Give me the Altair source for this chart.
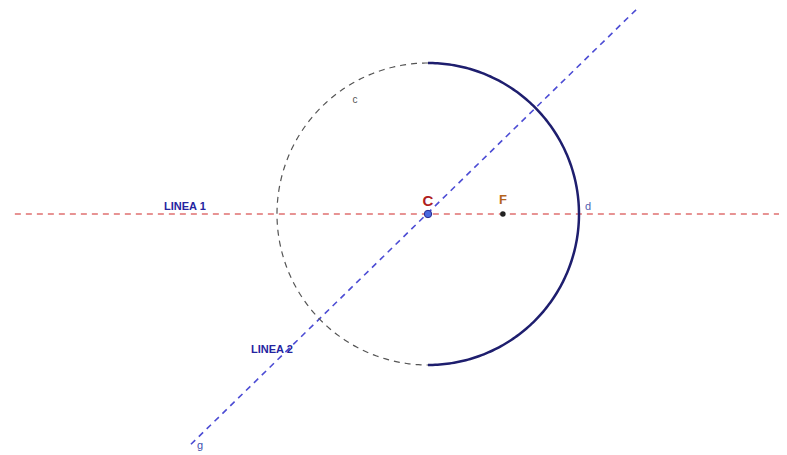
import altair as alt
import numpy as np
import pandas as pd

# Geometry (data units)
center_x, center_y = 0.0, 0.0
radius = 5.0
F_point = (2.48, 0.0)

# Line 1 (horizontal, red dashed) endpoints
line1_x = [-13.68, 12.5]
line1_y = [0.0, 0.0]
# Line 2 (blue dashed) endpoints
line2_x = [-8.11, 6.95]
line2_y = [-7.88, 6.82]

# Labels
label_text = ["LINEA 1", "LINEA 2", "C", "F", "d", "c", "g"]
label_x = [-8.05, -5.17, 0.0, 2.48, 5.30, -2.42, -7.55]
label_y = [0.23, -4.50, 0.42, 0.48, 0.23, 3.77, -7.68]
label_color = ["#2424a0", "#2424a0", "#b01e1e", "#b5651d", "#5060b0", "#555555", "#4050b0"]
label_size = [11, 11, 15, 13, 11, 10, 11]
label_weight = ["bold", "bold", "bold", "bold", "normal", "normal", "normal"]

XD = [-13.907, 11.623]
YD = [-7.715, 6.821]
xs = alt.Scale(domain=XD, nice=False, zero=False)
ys = alt.Scale(domain=YD, nice=False, zero=False)

def arc_df(a0, a1, n=200):
    t = np.linspace(a0, a1, n)
    return pd.DataFrame({"x": center_x + radius * np.cos(t),
                         "y": center_y + radius * np.sin(t),
                         "o": np.arange(n)})

left_arc = arc_df(np.pi / 2, 3 * np.pi / 2)
right_arc = arc_df(-np.pi / 2, np.pi / 2)

def enc(**kw):
    return dict(x=alt.X("x:Q", scale=xs, axis=None),
                y=alt.Y("y:Q", scale=ys, axis=None), **kw)

l1 = alt.Chart(pd.DataFrame({"x": line1_x, "y": line1_y})).mark_line(
    color="#e07070", strokeWidth=1.3, strokeDash=[6, 5], clip=True).encode(**enc())
l2 = alt.Chart(pd.DataFrame({"x": line2_x, "y": line2_y})).mark_line(
    color="#4c4cd4", strokeWidth=1.6, strokeDash=[6, 5], clip=True).encode(**enc())
la = alt.Chart(left_arc).mark_line(
    color="#555555", strokeWidth=1.2, strokeDash=[6, 5]).encode(**enc(order="o:Q"))
ra = alt.Chart(right_arc).mark_line(
    color="#1e1e6e", strokeWidth=2.5).encode(**enc(order="o:Q"))

pts = pd.DataFrame({"x": [F_point[0]], "y": [F_point[1]]})
pF = alt.Chart(pts).mark_point(filled=True, color="#222222", size=30, opacity=1).encode(**enc())
pC = alt.Chart(pd.DataFrame({"x": [center_x], "y": [center_y]})).mark_point(
    filled=True, shape="circle", size=55, fill="#4a6ae0", stroke="#2a2a90",
    strokeWidth=1, opacity=1).encode(**enc())

texts = []
for t, x, y, c, s, w in zip(label_text, label_x, label_y, label_color, label_size, label_weight):
    texts.append(alt.Chart(pd.DataFrame({"x": [x], "y": [y], "t": [t]})).mark_text(
        color=c, fontSize=s, fontWeight=w, font="Liberation Sans",
        align="center", baseline="middle").encode(**enc(text="t:N")))

chart = alt.layer(l1, l2, la, ra, pF, pC, *texts).properties(
    width=771, height=439, background="white", padding=0
).configure_view(stroke=None)

chart.save("out.html", embed_options={"renderer": "svg", "actions": False})
